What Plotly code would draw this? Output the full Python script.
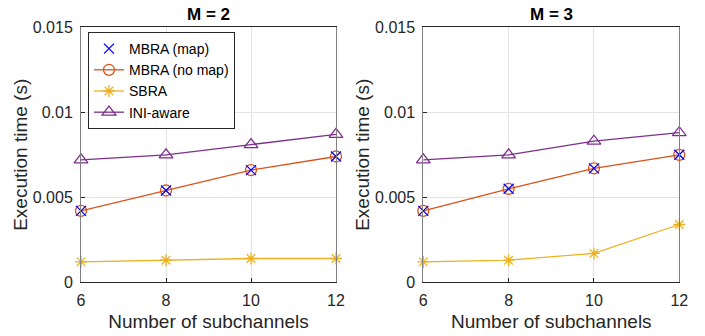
import plotly.graph_objects as go

subchannels = [6, 8, 10, 12]
panel_titles = ["M = 2", "M = 3"]
series_names = ["MBRA (map)", "MBRA (no map)", "SBRA", "INI-aware"]

# M = 2
m2_mbra_map = [0.0042, 0.0054, 0.0066, 0.0074]
m2_mbra_nomap = [0.0042, 0.0054, 0.0066, 0.0074]
m2_sbra = [0.0012, 0.0013, 0.0014, 0.0014]
m2_ini = [0.0072, 0.0075, 0.0081, 0.0087]

# M = 3
m3_mbra_map = [0.0042, 0.0055, 0.0067, 0.0075]
m3_mbra_nomap = [0.0042, 0.0055, 0.0067, 0.0075]
m3_sbra = [0.0012, 0.0013, 0.0017, 0.0034]
m3_ini = [0.0072, 0.0075, 0.0083, 0.0088]

y_ticks = [0, 0.005, 0.01, 0.015]
y_tick_labels = ["0", "0.005", "0.01", "0.015"]

colors = ["#0000FF", "#D95319", "#EDB120", "#7E2F8E"]
symbols = ["x-thin-open", "circle-open", "asterisk-open", "triangle-up-open"]
sizes = [10, 11, 10, 12]
modes = ["markers", "lines+markers", "lines+markers", "lines+markers"]

FONT = "Liberation Sans, Arial, Helvetica, sans-serif"

fig = go.Figure()

panels = [
    (m2_mbra_map, m2_mbra_nomap, m2_sbra, m2_ini),
    (m3_mbra_map, m3_mbra_nomap, m3_sbra, m3_ini),
]

order = [3, 2, 1, 0]
for p, data in enumerate(panels):
    xa = "x" if p == 0 else "x2"
    ya = "y" if p == 0 else "y2"
    for i in order:
        fig.add_trace(go.Scatter(
            x=subchannels, y=data[i], name=series_names[i], mode=modes[i],
            xaxis=xa, yaxis=ya, cliponaxis=False,
            line=dict(color=colors[i], width=1.3),
            marker=dict(symbol=symbols[i], size=sizes[i], color=colors[i],
                        line=dict(color=colors[i], width=1.3)),
            showlegend=(p == 0), legendrank=i + 1,
        ))

axis_common = dict(
    showgrid=True, gridcolor="#E3E3E3", gridwidth=1,
    zeroline=False, showline=True, mirror=True, automargin=False,
    ticks="inside", ticklen=4, tickcolor="#262626",
    tickfont=dict(family=FONT, size=16, color="#262626"),
)

xdoms = [(0.1149, 0.4766), (0.6004, 0.9635)]
ydom = (0.1598, 0.9187)
for p in range(2):
    sfx = "" if p == 0 else "2"
    fig.update_layout(**{
        "xaxis" + sfx: dict(
            axis_common, domain=list(xdoms[p]), range=[6, 12],
            tickvals=subchannels, ticktext=[str(v) for v in subchannels],
            linecolor="#262626", linewidth=1, ticklabelstandoff=3,
            anchor="y" + sfx,
            title=dict(text="Number of subchannels", standoff=7,
                       font=dict(family=FONT, size=19, color="#262626")),
        ),
        "yaxis" + sfx: dict(
            axis_common, domain=list(ydom), range=[0, 0.015],
            tickvals=y_ticks, ticktext=y_tick_labels,
            linecolor="#808080", linewidth=1, ticklabelstandoff=4,
            anchor="x" + sfx,
            title=dict(text="Execution time (s)", standoff=0,
                       font=dict(family=FONT, size=19, color="#262626")),
        ),
    })

annotations = []
for p in range(2):
    cx = (xdoms[p][0] + xdoms[p][1]) / 2
    annotations.append(dict(
        text="<b>" + panel_titles[p] + "</b>", x=cx, y=ydom[1], xref="paper", yref="paper",
        xanchor="center", yanchor="bottom", yshift=1, showarrow=False,
        font=dict(family=FONT, size=17, color="#000000"),
    ))

fig.update_layout(
    width=705, height=336,
    margin=dict(l=0, r=0, t=0, b=0),
    paper_bgcolor="white", plot_bgcolor="white",
    annotations=annotations,
    legend=dict(
        x=0.1248, y=0.9048, xanchor="left", yanchor="top",
        bgcolor="white", bordercolor="#262626", borderwidth=1,
        font=dict(family=FONT, size=14, color="#000000"),
        tracegroupgap=0, itemwidth=30,
    ),
)

fig.write_html("out.html", config={"displayModeBar": False},
               post_script="document.body.style.margin='0px';")
